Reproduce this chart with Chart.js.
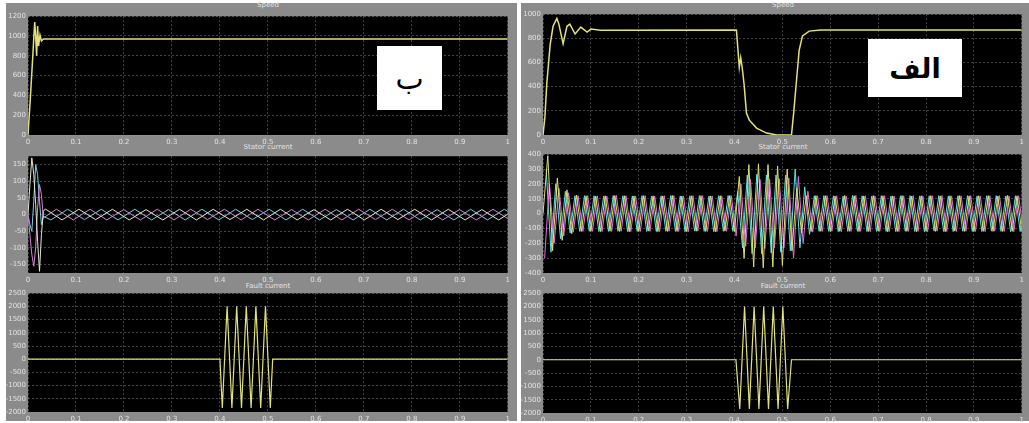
<!DOCTYPE html>
<html>
<head>
<meta charset="utf-8">
<script src="https://cdn.jsdelivr.net/npm/chart.js@4.4.1/dist/chart.umd.min.js"></script>
<style>
  body { margin: 0; background: #fff; width: 1029px; height: 423px; position: relative; overflow: hidden; font-family: "DejaVu Sans", sans-serif; }
  .panel { position: absolute; background: #8b8b8b; }
  .ttl { position: absolute; font-size: 7px; color: #e4e4e4; transform: translateX(-50%); white-space: nowrap; }
  canvas { position: absolute; }
  .tag { position: absolute; background: #fff; color: #000; display: flex; align-items: center; justify-content: center; font-family: "DejaVu Sans", sans-serif; }
</style>
</head>
<body>
<div class="panel" style="left:6px;top:3px;width:511px;height:418px"></div>
<div class="panel" style="left:521px;top:3px;width:508px;height:418px"></div>

<div class="ttl" style="left:268px;top:1px">Speed</div>
<div class="ttl" style="left:268px;top:143px">Stator current</div>
<div class="ttl" style="left:268px;top:282px">Fault current</div>
<div class="ttl" style="left:783px;top:1px">Speed</div>
<div class="ttl" style="left:783px;top:143px">Stator current</div>
<div class="ttl" style="left:783px;top:282px">Fault current</div>

<script>
// time axis (s)
const timeTicks = [0, 0.1, 0.2, 0.3, 0.4, 0.5, 0.6, 0.7, 0.8, 0.9, 1];
const timeLabels = ['0', '0.1', '0.2', '0.3', '0.4', '0.5', '0.6', '0.7', '0.8', '0.9', '1'];

// y ticks
const speedTicksB = [0, 200, 400, 600, 800, 1000, 1200];
const speedTicksA = [0, 200, 400, 600, 800, 1000];
const curTicksB = [-150, -100, -50, 0, 50, 100, 150];
const curRangeB = [-175, 175];
const curTicksA = [-400, -300, -200, -100, 0, 100, 200, 300, 400];
const faultTicks = [-2000, -1500, -1000, -500, 0, 500, 1000, 1500, 2000, 2500];

// panel "ب" : speed
const speedB_t = [0, 0.005, 0.010, 0.014, 0.016, 0.018, 0.020, 0.022, 0.025, 0.028, 0.032, 1];
const speedB_v = [0, 380, 800, 1140, 1000, 800, 1100, 900, 1010, 950, 970, 970];

// panel "الف" : speed
const speedA_t = [0, 0.004, 0.008, 0.015, 0.021, 0.029, 0.033, 0.042, 0.050, 0.056,
                  0.067, 0.079, 0.092, 0.10, 0.12, 0.404, 0.410, 0.413, 0.416, 0.420,
                  0.425, 0.431, 0.446, 0.467, 0.488, 0.519, 0.524, 0.529, 0.535, 0.542,
                  0.556, 0.58, 1];
const speedA_v = [0, 150, 430, 750, 900, 965, 920, 755, 900, 918,
                  836, 893, 852, 877, 868, 870, 560, 640, 560, 420,
                  180, 123, 57, 16, 0, 0, 200, 430, 700, 820,
                  860, 870, 870];

// panel "ب" : stator current — start-up transient, then steady peaks every 0.035 s
const curB_tr_t = [0, 0.004, 0.008, 0.012, 0.016, 0.020, 0.024, 0.028, 0.032];
const curB_tr_a = [0, 90, 170, 120, 30, -80, -170, -60, 10];
const curB_tr_b = [0, -60, -120, -155, -100, 20, 90, 60, -10];
const curB_tr_c = [0, -30, -50, 40, 150, 120, 40, -30, -5];
const curB_step = 0.035;
const curB_a = [17, -16, 16, -15, 16, -16, 15, -16, 16, -16, 16, -15, 16, -16, 16,
                -16, 15, -16, 16, -16, 16, -15, 16, -16, 16, -16, 15, -16, 16];
const curB_c = [-16, 16, -15, 16, -16, 16, -16, 15, -16, 16, -16, 16, -15, 16, -16,
                16, -16, 15, -16, 16, -16, 16, -16, 15, -16, 16, -16, 16, -15];
const curB_b = [16, -16, 16, -16, 15, -16, 16, -16, 16, -15, 16, -16, 16, -16, 15,
                -16, 16, -16, 16, -15, 16, -16, 16, -16, 15, -16, 16, -16, 16];

// panel "الف" : stator current, peaks every 0.01 s
const curA_step = 0.01;
const curA_a = [
  0, 390, -250, 240, -180, 160, -135, 125, -120, 120,
  -120, 118, -121, 120, -119, 121, -120, 120, -122, 119,
  -120, 121, -118, 120, -121, 119, -120, 122, -120, 118,
  -121, 120, -119, 121, -120, 119, -122, 120, -118, 121,
  -120, 250, -300, 330, -360, 335, -365, 330, -360, 320,
  -350, 300, -250, 170, -130, 120, -120, 121, -119, 120,
  -121, 118, -120, 122, -119, 120, -121, 119, -120, 121,
  -118, 120, -122, 119, -120, 121, -120, 118, -121, 120,
  -119, 121, -120, 119, -122, 120, -118, 121, -120, 119,
  -121, 120, -119, 121, -120, 118, -120, 122, -119, 120,
  -120];
const curA_b = [
  -300, 200, -200, 170, -150, 140, -125, 120, -120, 121,
  -119, 120, -121, 118, -120, 122, -119, 120, -121, 119,
  -120, 121, -120, 118, -121, 120, -119, 121, -120, 119,
  -122, 120, -118, 121, -120, 119, -121, 120, -119, 121,
  -150, 200, -220, 230, -230, 230, -235, 230, -230, 235,
  -230, 240, -300, 250, -200, 150, -125, 120, -120, 121,
  -119, 120, -121, 118, -120, 122, -119, 120, -121, 119,
  -120, 121, -120, 118, -121, 120, -119, 121, -120, 119,
  -122, 120, -118, 121, -120, 119, -121, 120, -119, 121,
  -120, 119, -121, 120, -118, 121, -120, 119, -122, 120,
  -120];
const curA_c = [
  300, -260, 200, -170, 150, -130, 120, -120, 121, -119,
  120, -121, 118, -120, 122, -119, 120, -121, 119, -120,
  121, -120, 118, -121, 120, -119, 121, -120, 119, -122,
  120, -118, 121, -120, 119, -121, 120, -119, 121, -120,
  150, -230, 260, -270, 265, -270, 260, -265, 260, -260,
  260, -250, 300, -230, 180, -140, 120, -120, 121, -119,
  120, -121, 118, -120, 122, -119, 120, -121, 119, -120,
  121, -120, 118, -121, 120, -119, 121, -120, 119, -122,
  120, -118, 121, -120, 119, -121, 120, -119, 121, -120,
  119, -121, 120, -118, 121, -120, 119, -122, 120, -121,
  120];

// fault currents
const faultB_t = [0, 0.400, 0.405, 0.415, 0.425, 0.435, 0.445, 0.455, 0.465, 0.475, 0.485, 0.495, 0.505, 0.510, 1];
const faultB_v = [0, 0, -1850, 2000, -1850, 2000, -1850, 2000, -1850, 2000, -1850, 2000, -1850, 0, 0];
const faultA_t = [0, 0.403, 0.411, 0.421, 0.431, 0.441, 0.451, 0.461, 0.471, 0.481, 0.491, 0.501, 0.511, 0.519, 1];
const faultA_v = [0, 0, -1850, 2000, -1850, 2000, -1850, 2000, -1850, 2000, -1850, 2000, -1850, 0, 0];

const YELLOW = '#e2e27a';
const PH_A = ['#e0e070', '#e070e0', '#60e0e0'];
const PH_B = ['#e4e4d8', '#d088d0', '#80c8e0'];

function pairs(ts, vs) {
  return ts.map((t, i) => ({ x: t, y: vs[i] }));
}
function stepped(vs, t0, dt) {
  return vs.map((v, i) => ({ x: t0 + i * dt, y: v }));
}

const blackArea = {
  id: 'blackArea',
  beforeDraw(chart) {
    const { ctx, chartArea: a } = chart;
    ctx.save();
    ctx.fillStyle = '#000';
    ctx.fillRect(a.left, a.top, a.right - a.left, a.bottom - a.top);
    ctx.restore();
  }
};

Chart.defaults.font.family = 'DejaVu Sans';
Chart.defaults.font.size = 7;
Chart.defaults.color = '#e2e2e2';

// room round each plot area for the tick labels
const PADL = 34, PADT = 5, PADR = 4, PADB = 12;

function scope(rect, datasets, yTicks, yRange) {
  const [l, t, r, b] = rect;
  const range = yRange || [yTicks[0], yTicks[yTicks.length - 1]];
  const cv = document.createElement('canvas');
  cv.width = r - l + PADL + PADR;
  cv.height = b - t + PADT + PADB;
  cv.style.left = (l - PADL) + 'px';
  cv.style.top = (t - PADT) + 'px';
  document.body.appendChild(cv);

  const gridLine = { color: 'rgba(160,160,160,0.42)', drawTicks: false };
  new Chart(cv, {
    type: 'line',
    data: { datasets },
    options: {
      responsive: false,
      animation: false,
      layout: { padding: { left: 0, top: PADT, right: PADR, bottom: 0 } },
      elements: { point: { radius: 0 }, line: { borderWidth: 1, tension: 0 } },
      plugins: { legend: { display: false }, tooltip: { enabled: false } },
      scales: {
        x: {
          type: 'linear', min: 0, max: 1,
          grid: gridLine,
          border: { display: false, dash: [2, 2] },
          afterBuildTicks: s => { s.ticks = timeTicks.map(v => ({ value: v })); },
          afterFit: s => { s.height = PADB; },
          ticks: { maxRotation: 0, autoSkip: false, padding: 3, callback: (v, i) => timeLabels[i] }
        },
        y: {
          min: range[0], max: range[1],
          grid: gridLine,
          border: { display: false, dash: [2, 2] },
          afterBuildTicks: s => { s.ticks = yTicks.map(v => ({ value: v })); },
          afterFit: s => { s.width = PADL; },
          ticks: { autoSkip: false, padding: 2, callback: v => String(v) }
        }
      }
    },
    plugins: [blackArea]
  });
}

// panel "ب" (left)
scope([28, 15, 509, 135], [{ data: pairs(speedB_t, speedB_v), borderColor: YELLOW, borderWidth: 1.5 }], speedTicksB);
scope([28, 155, 509, 273], [
  { data: pairs(curB_tr_t, curB_tr_a).concat(stepped(curB_a, 0.036, curB_step)), borderColor: PH_B[0] },
  { data: pairs(curB_tr_t, curB_tr_b).concat(stepped(curB_b, 0.0593, curB_step)), borderColor: PH_B[1] },
  { data: pairs(curB_tr_t, curB_tr_c).concat(stepped(curB_c, 0.0477, curB_step)), borderColor: PH_B[2] }
], curTicksB, curRangeB);
scope([28, 292, 509, 412], [{ data: pairs(faultB_t, faultB_v), borderColor: YELLOW, borderWidth: 1.2 }], faultTicks);

// panel "الف" (right)
scope([543, 13, 1023, 135], [{ data: pairs(speedA_t, speedA_v), borderColor: YELLOW, borderWidth: 1.5 }], speedTicksA);
scope([543, 153, 1023, 273], [
  { data: stepped(curA_a, 0, curA_step), borderColor: PH_A[0] },
  { data: stepped(curA_b, 0.00333, curA_step), borderColor: PH_A[1] },
  { data: stepped(curA_c, 0.00667, curA_step), borderColor: PH_A[2] }
], curTicksA);
scope([543, 292, 1023, 413], [{ data: pairs(faultA_t, faultA_v), borderColor: YELLOW, borderWidth: 1.2 }], faultTicks);
</script>

<div class="tag" style="left:377px;top:46px;width:65px;height:64px;font-size:30px">ب</div>
<div class="tag" style="left:868px;top:39px;width:94px;height:58px;font-size:27px;font-weight:bold">الف</div>
</body>
</html>
